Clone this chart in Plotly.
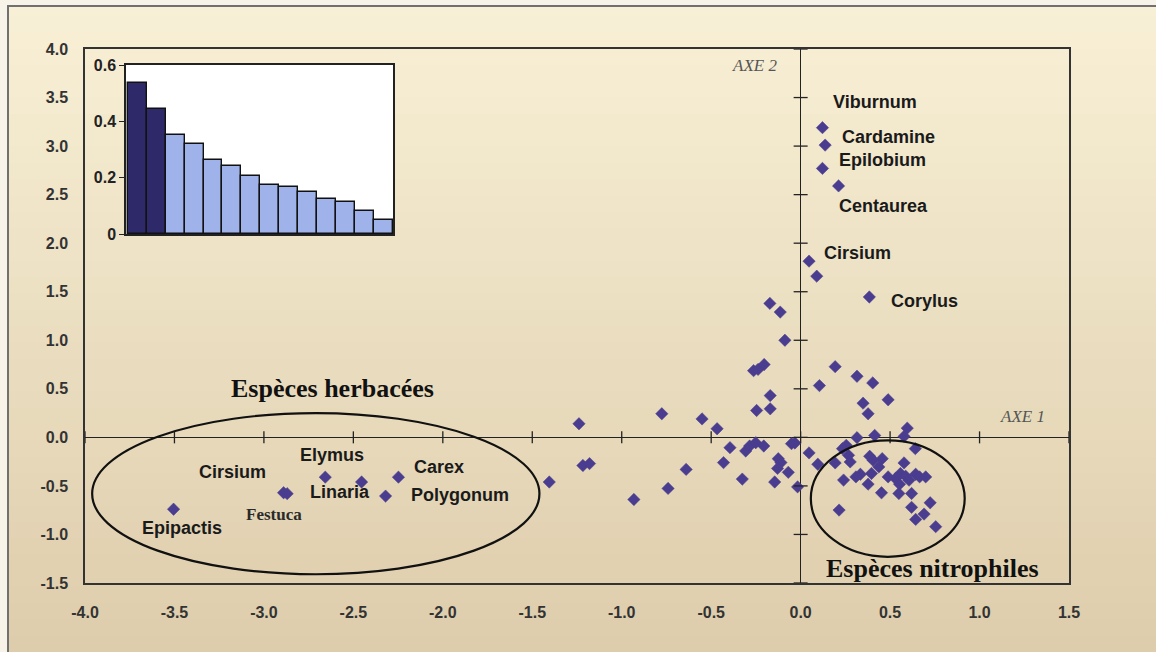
import plotly.graph_objects as go

# ---------------- data ----------------
# PCA scores (axe 1, axe 2)
pts_x = [-3.505, -2.89, -2.87, -2.657, -2.454, -2.32, -2.248, -1.405, -1.239, -1.217, -1.18,
         -0.932, -0.776, -0.741, -0.64, -0.551, -0.467, -0.431, -0.395, -0.326, -0.307, -0.285,
         -0.251, -0.206, -0.263, -0.238, -0.204, -0.17, -0.246, -0.17, -0.172, -0.114, -0.088,
         -0.145, -0.125, -0.11, -0.129, -0.069, -0.017, -0.051, -0.032,
         0.122, 0.137, 0.122, 0.212, 0.047, 0.09, 0.384, 0.193, 0.105, 0.315, 0.403, 0.349,
         0.489, 0.377, 0.596, 0.578, 0.414, 0.315, 0.255, 0.234, 0.047, 0.096, 0.268, 0.277,
         0.193, 0.386, 0.405, 0.456, 0.641, 0.578, 0.437, 0.396, 0.334, 0.24, 0.309, 0.377,
         0.452, 0.489, 0.53, 0.558, 0.587, 0.606, 0.643, 0.699, 0.665, 0.553, 0.549, 0.62,
         0.724, 0.62, 0.69, 0.643, 0.755, 0.215]
pts_y = [-0.74, -0.57, -0.58, -0.41, -0.46, -0.605, -0.41, -0.46, 0.14, -0.29, -0.27,
         -0.64, 0.243, -0.526, -0.33, 0.19, 0.089, -0.26, -0.106, -0.43, -0.14, -0.089,
         -0.055, -0.089, 0.687, 0.70, 0.75, 0.43, 0.277, 0.294, 1.38, 1.29, 1.00,
         -0.46, -0.22, -0.26, -0.32, -0.36, -0.51, -0.065, -0.058,
         3.19, 3.01, 2.77, 2.59, 1.815, 1.66, 1.446, 0.728, 0.533, 0.629, 0.561, 0.352,
         0.387, 0.243, 0.095, 0.01, 0.02, -0.003, -0.082, -0.116, -0.16, -0.277, -0.185, -0.253,
         -0.263, -0.195, -0.236, -0.219, -0.116, -0.263, -0.304, -0.372, -0.38, -0.44, -0.407, -0.482,
         -0.571, -0.407, -0.424, -0.372, -0.4, -0.441, -0.38, -0.407, -0.407, -0.482, -0.578, -0.578,
         -0.674, -0.721, -0.79, -0.845, -0.92, -0.749]

# species labels
sp_names = ["Viburnum", "Cardamine", "Epilobium", "Centaurea", "Cirsium", "Corylus",
            "Cirsium", "Elymus", "Linaria", "Carex", "Polygonum", "Epipactis"]
sp_x = [0.171, 0.218, 0.203, 0.203, 0.122, 0.493,
        -3.373, -2.812, -2.754, -2.173, -2.188, -3.692]
sp_y = [3.456, 3.09, 2.855, 2.38, 1.90, 1.405,
        -0.356, -0.185, -0.561, -0.305, -0.595, -0.937]
festuca_label = "Festuca"
festuca_xy = (-3.112, -0.79)

# group labels and ellipses (centre x, centre y, half-width, half-height)
group_names = ["Espèces herbacées", "Espèces nitrophiles"]
group_x = [-2.615, 0.737]
group_y = [0.50, -1.354]
ellipses = [(-2.71, -0.58, 1.25, 0.83), (0.487, -0.63, 0.43, 0.60)]

# eigenvalue inset
eig_rank = list(range(14))
eig_vals = [0.536, 0.445, 0.351, 0.321, 0.262, 0.240, 0.205, 0.174, 0.167, 0.148,
            0.124, 0.112, 0.083, 0.049]
eig_colors = ["#2e2a6a", "#2e2a6a"] + ["#9fb2ea"] * 12

x_ticks = [-4.0, -3.5, -3.0, -2.5, -2.0, -1.5, -1.0, -0.5, 0.0, 0.5, 1.0, 1.5]
y_ticks = [-1.5, -1.0, -0.5, 0.0, 0.5, 1.0, 1.5, 2.0, 2.5, 3.0, 3.5, 4.0]
inset_ticks = [0, 0.2, 0.4, 0.6]
inset_ticktext = ["0", "0.2", "0.4", "0.6"]

# ---------------- figure ----------------
W, H = 1156, 652
ML, MR, MT, MB = 85, 87, 49, 69
PW, PH = W - ML - MR, H - MT - MB

def px_x(px):  # page pixel -> paper x
    return (px - ML) / PW

def px_y(py):  # page pixel -> paper y
    return (H - MB - py) / PH

fig = go.Figure()

fig.add_trace(go.Scatter(
    x=pts_x, y=pts_y, mode="markers",
    marker=dict(symbol="diamond", size=9.5, color="#4a3d8f",
                line=dict(width=0.5, color="#4a3d8f")),
    hoverinfo="x+y", showlegend=False, xaxis="x", yaxis="y"))

fig.add_trace(go.Bar(
    x=eig_rank, y=eig_vals, width=1.0,
    marker=dict(color=eig_colors, line=dict(color="#111111", width=1.4)),
    showlegend=False, xaxis="x2", yaxis="y2"))

SANS = "Liberation Sans, Arial, sans-serif"
SERIF = "Liberation Serif, Times New Roman, serif"

shapes = []
# background gradient bands (paper)
n_bands = 40
top_c = (248, 240, 214)
bot_c = (222, 205, 172)
y_top, y_bot = px_y(0), px_y(H)
for i in range(n_bands):
    t = i / (n_bands - 1)
    c = tuple(int(round(top_c[k] + (bot_c[k] - top_c[k]) * t)) for k in range(3))
    band = (y_top - y_bot) / n_bands
    shapes.append(dict(type="rect", xref="paper", yref="paper",
                       x0=px_x(-5), x1=px_x(W + 5),
                       y1=y_top - i * band + (0.01 if i == 0 else 0),
                       y0=y_top - (i + 1) * band - (0.01 if i == n_bands - 1 else 0.002),
                       fillcolor="rgb(%d,%d,%d)" % c, line=dict(width=0), layer="below"))
# pale page margin (left / top) and the outer frame
shapes.append(dict(type="rect", xref="paper", yref="paper",
                   x0=px_x(-5), x1=px_x(8), y0=px_y(H + 5), y1=px_y(-5),
                   fillcolor="#f7f3e8", line=dict(width=0), layer="below"))
shapes.append(dict(type="rect", xref="paper", yref="paper",
                   x0=px_x(-5), x1=px_x(W + 5), y0=px_y(6), y1=px_y(-5),
                   fillcolor="#f7f3e8", line=dict(width=0), layer="below"))
shapes.append(dict(type="rect", xref="paper", yref="paper",
                   x0=px_x(8), x1=px_x(W + 20), y0=px_y(H + 20), y1=px_y(6),
                   line=dict(color="#707070", width=2), fillcolor="rgba(0,0,0,0)", layer="below"))

# crossing ticks on the zero axes
for xv in x_ticks:
    shapes.append(dict(type="line", xref="x", yref="y", ysizemode="pixel", yanchor=0,
                       x0=xv, x1=xv, y0=-6, y1=6, line=dict(color="#222222", width=1.3)))
for yv in y_ticks:
    shapes.append(dict(type="line", xref="x", yref="y", xsizemode="pixel", xanchor=0,
                       y0=yv, y1=yv, x0=-7, x1=7, line=dict(color="#222222", width=1.3)))

# ellipses
for (cx, cy, a, b) in ellipses:
    shapes.append(dict(type="circle", xref="x", yref="y",
                       x0=cx - a, x1=cx + a, y0=cy - b, y1=cy + b,
                       line=dict(color="#111111", width=2.2)))

annotations = []
for n, x, y in zip(sp_names, sp_x, sp_y):
    annotations.append(dict(x=x, y=y, xref="x", yref="y", text=n, showarrow=False,
                            xanchor="left", yanchor="middle",
                            font=dict(family=SANS, size=18, color="#1a1a1a", weight="bold")))
annotations.append(dict(x=festuca_xy[0], y=festuca_xy[1], xref="x", yref="y", text=festuca_label,
                        showarrow=False, xanchor="left", yanchor="middle",
                        font=dict(family=SERIF, size=17, color="#2a2a2a", weight="bold")))
for n, x, y in zip(group_names, group_x, group_y):
    annotations.append(dict(x=x, y=y, xref="x", yref="y", text=n, showarrow=False,
                            xanchor="center", yanchor="middle",
                            font=dict(family=SERIF, size=26, color="#111111", weight="bold")))
annotations.append(dict(x=0, y=1, xref="x", yref="paper", text="AXE 2", showarrow=False,
                        xanchor="right", yanchor="top", xshift=-22, yshift=-5,
                        font=dict(family=SERIF, size=17, color="#555555", style="italic")))
annotations.append(dict(x=1.5, y=0, xref="x", yref="y", text="AXE 1", showarrow=False,
                        xanchor="right", yanchor="bottom", xshift=-22, yshift=9,
                        font=dict(family=SERIF, size=17, color="#555555", style="italic")))

fig.update_layout(
    width=W, height=H,
    margin=dict(l=ML, r=MR, t=MT, b=MB),
    paper_bgcolor="#ebdfc2",
    plot_bgcolor="#ffffff",
    showlegend=False,
    bargap=0,
    shapes=shapes,
    annotations=annotations,
    xaxis=dict(domain=[0, 1], range=[-4.0, 1.5], tickvals=x_ticks,
               ticktext=["%.1f" % v for v in x_ticks],
               showgrid=False, zeroline=True, zerolinecolor="#222222", zerolinewidth=1.3,
               showline=True, mirror=True, linecolor="#333333", linewidth=1.5,
               ticks="", ticklabelstandoff=14,
               tickfont=dict(family=SANS, size=16, color="#333333", weight="bold"),
               fixedrange=True),
    yaxis=dict(domain=[0, 1], range=[-1.5, 4.0], tickvals=y_ticks,
               ticktext=["%.1f" % v for v in y_ticks],
               showgrid=False, zeroline=True, zerolinecolor="#222222", zerolinewidth=1.3,
               showline=True, mirror=True, linecolor="#333333", linewidth=1.5,
               ticks="", ticklabelstandoff=12,
               tickfont=dict(family=SANS, size=16, color="#333333", weight="bold"),
               fixedrange=True),
    xaxis2=dict(domain=[px_x(126), px_x(393)], range=[-0.59, 13.5], anchor="y2",
                showticklabels=False, ticks="", showgrid=False, zeroline=False,
                showline=True, mirror=True, linecolor="#222222", linewidth=1.5, fixedrange=True),
    yaxis2=dict(domain=[px_y(234), px_y(65)], range=[0, 0.6], anchor="x2",
                tickvals=inset_ticks, ticktext=inset_ticktext,
                ticks="outside", ticklen=5, tickcolor="#222222", tickwidth=1.3,
                showgrid=False, zeroline=False,
                showline=True, mirror=True, linecolor="#222222", linewidth=1.5,
                tickfont=dict(family=SANS, size=16, color="#222222", weight="bold"),
                fixedrange=True),
)

fig.write_html(
    "out.html",
    config={"displayModeBar": False},
    post_script="document.documentElement.style.overflow='hidden';"
                "document.body.style.overflow='hidden';"
                "document.body.style.margin='0';",
)
